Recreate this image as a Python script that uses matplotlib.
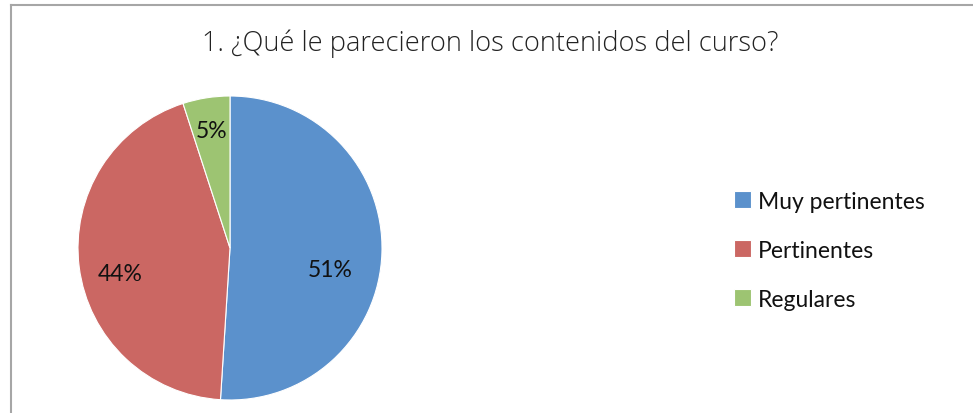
import matplotlib
matplotlib.use("Agg")
import matplotlib.pyplot as plt
from matplotlib.lines import Line2D

categories = ["Muy pertinentes", "Pertinentes", "Regulares"]
values = [51, 44, 5]
colors = ["#5b91cc", "#cb6763", "#9dc472"]
title = "1. ¿Qué le parecieron los contenidos del curso?"

W, H = 973, 414
fig = plt.figure(figsize=(W / 100, H / 100), dpi=100)
fig.patch.set_facecolor("white")

# chart frame: top and left edges
fig.add_artist(Line2D([11 / W, 1], [1 - 6 / H, 1 - 6 / H], color="#a6a6a6", lw=1.5,
                      transform=fig.transFigure))
fig.add_artist(Line2D([11 / W, 11 / W], [0, 1 - 6 / H], color="#a6a6a6", lw=1.5,
                      transform=fig.transFigure))

fig.text(490 / W, 1 - 44 / H, title, ha="center", va="center", fontsize=19.6,
         family="Open Sans", fontweight="light", color="#222222")

# pie area: centre (230, 249), radius 152 px
r = 152
ax = fig.add_axes([(230 - r) / W, (H - 249 - r) / H, 2 * r / W, 2 * r / H])
wedges, texts = ax.pie(values, colors=colors, startangle=90, counterclock=False,
                       wedgeprops=dict(linewidth=0.8, edgecolor="white"))
ax.set_aspect("equal")
ax.set_xlim(-1, 1)
ax.set_ylim(-1, 1)
ax.axis("off")

label_pos = [(0.66, -0.14), (-0.72, -0.17), (-0.12, 0.77)]
for v, (x, y) in zip(values, label_pos):
    ax.text(x, y, f"{v}%", ha="center", va="center", fontsize=16.5,
            family="Lato", color="#111111")

leg = fig.legend(wedges, categories, loc="upper left",
                 bbox_to_anchor=(713 / W, 1 - 171 / H), frameon=False,
                 prop=dict(family="Lato", size=16.5), handlelength=0.75,
                 handleheight=0.75, handletextpad=0.3, labelspacing=1.22)
for t in leg.get_texts():
    t.set_color("#111111")

fig.savefig("out.png", dpi=100, facecolor="white")
